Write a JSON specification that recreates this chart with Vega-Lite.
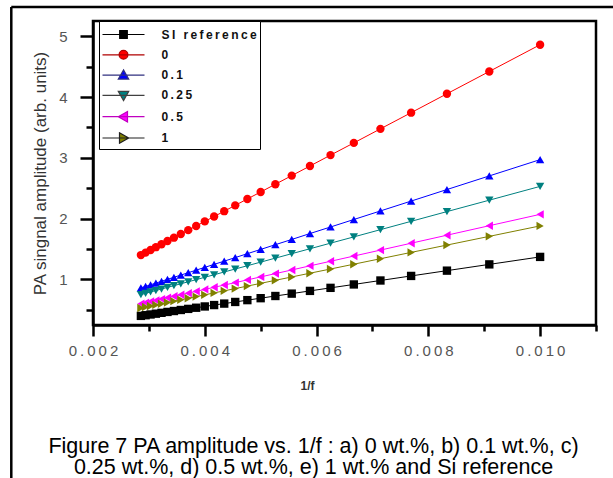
{
  "$schema": "https://vega.github.io/schema/vega-lite/v6.json",
  "width": 503,
  "height": 304,
  "padding": {"left": 10, "top": 5, "right": 0, "bottom": 0},
  "background": "white",
  "config": {
    "view": {"stroke": "black", "strokeWidth": 2.5},
    "font": "Liberation Sans",
    "legend": {
      "orient": "none", "legendX": 6, "legendY": 0, "title": null,
      "strokeColor": "black", "fillColor": "white", "padding": 2.5,
      "symbolSize": 400, "symbolStrokeWidth": 1.2, "symbolOffset": 11,
      "labelFont": "Liberation Sans", "labelFontSize": 12, "labelFontWeight": "bold", "labelColor": "#111",
      "labelOffset": 27, "rowPadding": 2.3
    }
  },
  "title": {
    "text": ["Figure 7 PA amplitude vs. 1/f : a) 0 wt.%, b) 0.1 wt.%, c)", "0.25 wt.%, d) 0.5 wt.%,  e) 1 wt.% and Si reference"],
    "orient": "bottom",
    "anchor": "middle",
    "frame": "group",
    "dx": -31,
    "offset": -64,
    "font": "Liberation Sans",
    "fontSize": 21.5,
    "fontWeight": "normal",
    "color": "black",
    "lineHeight": 21
  },
  "datasets": {
    "series": [
      {"x":0.01,"y":1.370,"s":"SI reference"},{"x":0.009091,"y":1.247,"s":"SI reference"},{"x":0.008333,"y":1.144,"s":"SI reference"},{"x":0.007692,"y":1.057,"s":"SI reference"},{"x":0.007143,"y":0.982,"s":"SI reference"},{"x":0.006667,"y":0.917,"s":"SI reference"},{"x":0.00625,"y":0.861,"s":"SI reference"},{"x":0.005882,"y":0.811,"s":"SI reference"},{"x":0.005556,"y":0.766,"s":"SI reference"},{"x":0.005263,"y":0.727,"s":"SI reference"},{"x":0.005,"y":0.691,"s":"SI reference"},{"x":0.004762,"y":0.659,"s":"SI reference"},{"x":0.004545,"y":0.629,"s":"SI reference"},{"x":0.004348,"y":0.602,"s":"SI reference"},{"x":0.004167,"y":0.578,"s":"SI reference"},{"x":0.004,"y":0.555,"s":"SI reference"},{"x":0.003846,"y":0.534,"s":"SI reference"},{"x":0.003704,"y":0.515,"s":"SI reference"},{"x":0.003571,"y":0.497,"s":"SI reference"},{"x":0.003448,"y":0.480,"s":"SI reference"},{"x":0.003333,"y":0.465,"s":"SI reference"},{"x":0.003226,"y":0.450,"s":"SI reference"},{"x":0.003125,"y":0.436,"s":"SI reference"},{"x":0.00303,"y":0.423,"s":"SI reference"},{"x":0.002941,"y":0.411,"s":"SI reference"},{"x":0.002857,"y":0.400,"s":"SI reference"},
      {"x":0.01,"y":4.860,"s":"0"},{"x":0.009091,"y":4.420,"s":"0"},{"x":0.008333,"y":4.053,"s":"0"},{"x":0.007692,"y":3.742,"s":"0"},{"x":0.007143,"y":3.476,"s":"0"},{"x":0.006667,"y":3.245,"s":"0"},{"x":0.00625,"y":3.044,"s":"0"},{"x":0.005882,"y":2.865,"s":"0"},{"x":0.005556,"y":2.707,"s":"0"},{"x":0.005263,"y":2.565,"s":"0"},{"x":0.005,"y":2.438,"s":"0"},{"x":0.004762,"y":2.323,"s":"0"},{"x":0.004545,"y":2.218,"s":"0"},{"x":0.004348,"y":2.122,"s":"0"},{"x":0.004167,"y":2.034,"s":"0"},{"x":0.004,"y":1.954,"s":"0"},{"x":0.003846,"y":1.879,"s":"0"},{"x":0.003704,"y":1.810,"s":"0"},{"x":0.003571,"y":1.746,"s":"0"},{"x":0.003448,"y":1.686,"s":"0"},{"x":0.003333,"y":1.631,"s":"0"},{"x":0.003226,"y":1.579,"s":"0"},{"x":0.003125,"y":1.530,"s":"0"},{"x":0.00303,"y":1.484,"s":"0"},{"x":0.002941,"y":1.441,"s":"0"},{"x":0.002857,"y":1.400,"s":"0"},
      {"x":0.01,"y":2.970,"s":"0.1"},{"x":0.009091,"y":2.702,"s":"0.1"},{"x":0.008333,"y":2.478,"s":"0.1"},{"x":0.007692,"y":2.288,"s":"0.1"},{"x":0.007143,"y":2.126,"s":"0.1"},{"x":0.006667,"y":1.985,"s":"0.1"},{"x":0.00625,"y":1.862,"s":"0.1"},{"x":0.005882,"y":1.754,"s":"0.1"},{"x":0.005556,"y":1.657,"s":"0.1"},{"x":0.005263,"y":1.571,"s":"0.1"},{"x":0.005,"y":1.493,"s":"0.1"},{"x":0.004762,"y":1.423,"s":"0.1"},{"x":0.004545,"y":1.359,"s":"0.1"},{"x":0.004348,"y":1.300,"s":"0.1"},{"x":0.004167,"y":1.247,"s":"0.1"},{"x":0.004,"y":1.198,"s":"0.1"},{"x":0.003846,"y":1.152,"s":"0.1"},{"x":0.003704,"y":1.110,"s":"0.1"},{"x":0.003571,"y":1.071,"s":"0.1"},{"x":0.003448,"y":1.035,"s":"0.1"},{"x":0.003333,"y":1.001,"s":"0.1"},{"x":0.003226,"y":0.969,"s":"0.1"},{"x":0.003125,"y":0.939,"s":"0.1"},{"x":0.00303,"y":0.911,"s":"0.1"},{"x":0.002941,"y":0.885,"s":"0.1"},{"x":0.002857,"y":0.860,"s":"0.1"},
      {"x":0.01,"y":2.530,"s":"0.25"},{"x":0.009091,"y":2.303,"s":"0.25"},{"x":0.008333,"y":2.115,"s":"0.25"},{"x":0.007692,"y":1.955,"s":"0.25"},{"x":0.007143,"y":1.818,"s":"0.25"},{"x":0.006667,"y":1.699,"s":"0.25"},{"x":0.00625,"y":1.596,"s":"0.25"},{"x":0.005882,"y":1.504,"s":"0.25"},{"x":0.005556,"y":1.423,"s":"0.25"},{"x":0.005263,"y":1.350,"s":"0.25"},{"x":0.005,"y":1.284,"s":"0.25"},{"x":0.004762,"y":1.225,"s":"0.25"},{"x":0.004545,"y":1.171,"s":"0.25"},{"x":0.004348,"y":1.122,"s":"0.25"},{"x":0.004167,"y":1.076,"s":"0.25"},{"x":0.004,"y":1.035,"s":"0.25"},{"x":0.003846,"y":0.996,"s":"0.25"},{"x":0.003704,"y":0.961,"s":"0.25"},{"x":0.003571,"y":0.928,"s":"0.25"},{"x":0.003448,"y":0.897,"s":"0.25"},{"x":0.003333,"y":0.869,"s":"0.25"},{"x":0.003226,"y":0.842,"s":"0.25"},{"x":0.003125,"y":0.817,"s":"0.25"},{"x":0.00303,"y":0.793,"s":"0.25"},{"x":0.002941,"y":0.771,"s":"0.25"},{"x":0.002857,"y":0.750,"s":"0.25"},
      {"x":0.01,"y":2.070,"s":"0.5"},{"x":0.009091,"y":1.883,"s":"0.5"},{"x":0.008333,"y":1.727,"s":"0.5"},{"x":0.007692,"y":1.595,"s":"0.5"},{"x":0.007143,"y":1.482,"s":"0.5"},{"x":0.006667,"y":1.384,"s":"0.5"},{"x":0.00625,"y":1.298,"s":"0.5"},{"x":0.005882,"y":1.223,"s":"0.5"},{"x":0.005556,"y":1.155,"s":"0.5"},{"x":0.005263,"y":1.095,"s":"0.5"},{"x":0.005,"y":1.041,"s":"0.5"},{"x":0.004762,"y":0.992,"s":"0.5"},{"x":0.004545,"y":0.947,"s":"0.5"},{"x":0.004348,"y":0.907,"s":"0.5"},{"x":0.004167,"y":0.870,"s":"0.5"},{"x":0.004,"y":0.835,"s":"0.5"},{"x":0.003846,"y":0.804,"s":"0.5"},{"x":0.003704,"y":0.774,"s":"0.5"},{"x":0.003571,"y":0.747,"s":"0.5"},{"x":0.003448,"y":0.722,"s":"0.5"},{"x":0.003333,"y":0.698,"s":"0.5"},{"x":0.003226,"y":0.676,"s":"0.5"},{"x":0.003125,"y":0.655,"s":"0.5"},{"x":0.00303,"y":0.636,"s":"0.5"},{"x":0.002941,"y":0.617,"s":"0.5"},{"x":0.002857,"y":0.600,"s":"0.5"},
      {"x":0.01,"y":1.880,"s":"1"},{"x":0.009091,"y":1.708,"s":"1"},{"x":0.008333,"y":1.565,"s":"1"},{"x":0.007692,"y":1.444,"s":"1"},{"x":0.007143,"y":1.340,"s":"1"},{"x":0.006667,"y":1.250,"s":"1"},{"x":0.00625,"y":1.171,"s":"1"},{"x":0.005882,"y":1.102,"s":"1"},{"x":0.005556,"y":1.040,"s":"1"},{"x":0.005263,"y":0.985,"s":"1"},{"x":0.005,"y":0.935,"s":"1"},{"x":0.004762,"y":0.890,"s":"1"},{"x":0.004545,"y":0.849,"s":"1"},{"x":0.004348,"y":0.812,"s":"1"},{"x":0.004167,"y":0.778,"s":"1"},{"x":0.004,"y":0.746,"s":"1"},{"x":0.003846,"y":0.717,"s":"1"},{"x":0.003704,"y":0.690,"s":"1"},{"x":0.003571,"y":0.665,"s":"1"},{"x":0.003448,"y":0.642,"s":"1"},{"x":0.003333,"y":0.620,"s":"1"},{"x":0.003226,"y":0.600,"s":"1"},{"x":0.003125,"y":0.581,"s":"1"},{"x":0.00303,"y":0.563,"s":"1"},{"x":0.002941,"y":0.546,"s":"1"},{"x":0.002857,"y":0.530,"s":"1"}
    ],
    "frame": [
      {"x": 0.000538, "x2": 0.0125, "y": 5.48, "y2": 5.48},
      {"x": 0.000538, "x2": 0.000538, "y": 5.48, "y2": -2.6}
    ]
  },
  "resolve": {"scale": {"shape": "independent"}, "legend": {"color": "independent", "shape": "independent", "stroke": "independent"}},
  "layer": [
    {
      "data": {"name": "series"},
      "mark": {"type": "line", "strokeWidth": 1},
      "encoding": {
        "x": {
          "field": "x", "type": "quantitative",
          "scale": {"domain": [0.002, 0.011], "nice": false, "zero": false},
          "axis": {
            "title": "1/f",
            "titleFont": "Liberation Sans", "titleFontSize": 12, "titleFontWeight": "bold", "titleColor": "#333",
            "titleX": 214, "titleY": 64, "titleBaseline": "alphabetic",
            "values": [0.002, 0.003, 0.004, 0.005, 0.006, 0.007, 0.008, 0.009, 0.01, 0.011],
            "tickCount": 30,
            "format": ".3f",
            "labelExpr": "round(datum.value*1000)%2==0 ? replace(datum.label, regexp('(.)(?=.)','g'), '$1\u2009') : ''",
            "labelFont": "Liberation Sans", "labelFontSize": 15, "labelColor": "#555", "labelPadding": 7,
            "labelFlush": false, "labelOverlap": false,
            "tickSize": 11,
            "tickDash": {"condition": {"test": "round(datum.value*1000)%2==1", "value": [6, 30]}, "value": [40, 0]},
            "tickWidth": 2.5, "tickColor": "black",
            "domainColor": "black", "domainWidth": 2.5, "grid": false
          }
        },
        "y": {
          "field": "y", "type": "quantitative",
          "scale": {"domain": [0.25, 5.25], "nice": false, "zero": false},
          "axis": {
            "title": "PA singnal amplitude (arb. units)",
            "titleFont": "Liberation Sans", "titleFontSize": 17, "titleFontWeight": "normal", "titleColor": "#333", "titlePadding": 9,
            "values": [0.5, 1, 1.5, 2, 2.5, 3, 3.5, 4, 4.5, 5],
            "tickCount": 30,
            "format": ".1f",
            "labelExpr": "round(datum.value*2)%2==0 ? format(datum.value, 'd') : ''",
            "labelFont": "Liberation Sans", "labelFontSize": 15, "labelColor": "#555", "labelPadding": 13,
            "labelOverlap": false,
            "tickSize": 13,
            "tickDash": {"condition": {"test": "round(datum.value*2)%2==1", "value": [7, 30]}, "value": [40, 0]},
            "tickWidth": 2.5, "tickColor": "black",
            "domainColor": "black", "domainWidth": 2.5, "grid": false
          }
        },
        "color": {
          "field": "s", "type": "nominal",
          "scale": {"domain": ["SI reference", "0", "0.1", "0.25", "0.5", "1"], "range": ["#000000", "#ff0000", "#0000ff", "#008080", "#ff00ff", "#808000"]},
          "legend": null
        },
        "order": {"field": "x", "type": "quantitative"}
      }
    },
    {
      "data": {"name": "series"},
      "mark": {"type": "point", "filled": true, "opacity": 1, "size": 70},
      "encoding": {
        "x": {"field": "x", "type": "quantitative"},
        "y": {"field": "y", "type": "quantitative"},
        "color": {"field": "s", "type": "nominal", "legend": null},
        "shape": {
          "field": "s", "type": "nominal",
          "scale": {"domain": ["SI reference", "0", "0.1", "0.25", "0.5", "1"], "range": ["square", "circle", "triangle-up", "triangle-down", "triangle-left", "triangle-right"]},
          "legend": null
        }
      }
    },
    {
      "data": {"name": "series"},
      "mark": {"type": "point", "filled": true, "opacity": 1, "size": 0},
      "encoding": {
        "x": {"field": "x", "type": "quantitative"},
        "y": {"field": "y", "type": "quantitative"},
        "color": {
          "field": "s", "type": "nominal",
          "legend": {"labelExpr": "replace(datum.label, regexp('(.)(?=.)','g'), '$1\u2009')"}
        },
        "stroke": {
          "field": "s", "type": "nominal",
          "scale": {"domain": ["SI reference", "0", "0.1", "0.25", "0.5", "1"], "range": ["#000000", "#b00000", "#303080", "#404040", "#c000c0", "#202020"]},
          "legend": {"labelExpr": "replace(datum.label, regexp('(.)(?=.)','g'), '$1\u2009')"}
        },
        "shape": {
          "field": "s", "type": "nominal",
          "scale": {"domain": ["SI reference", "0", "0.1", "0.25", "0.5", "1"], "range": [
            "M-2.1,0H2.1M-0.38,-0.38H0.38V0.38H-0.38Z",
            "M-2.1,0H2.1M-0.44,0A0.44,0.44,0,1,0,0.44,0A0.44,0.44,0,1,0,-0.44,0Z",
            "M-2.1,0H2.1M0,-0.52L0.52,0.4L-0.52,0.4Z",
            "M-2.1,0H2.1M0,0.52L0.52,-0.4L-0.52,-0.4Z",
            "M-2.1,0H2.1M-0.52,0L0.4,-0.52L0.4,0.52Z",
            "M-2.1,0H2.1M0.52,0L-0.4,-0.52L-0.4,0.52Z"
          ]},
          "legend": {"labelExpr": "replace(datum.label, regexp('(.)(?=.)','g'), '$1\u2009')"}
        }
      }
    },
    {
      "data": {"name": "frame"},
      "mark": {"type": "rule", "color": "black", "strokeWidth": 2.5},
      "encoding": {
        "x": {"field": "x", "type": "quantitative"},
        "x2": {"field": "x2"},
        "y": {"field": "y", "type": "quantitative"},
        "y2": {"field": "y2"}
      }
    }
  ]
}
